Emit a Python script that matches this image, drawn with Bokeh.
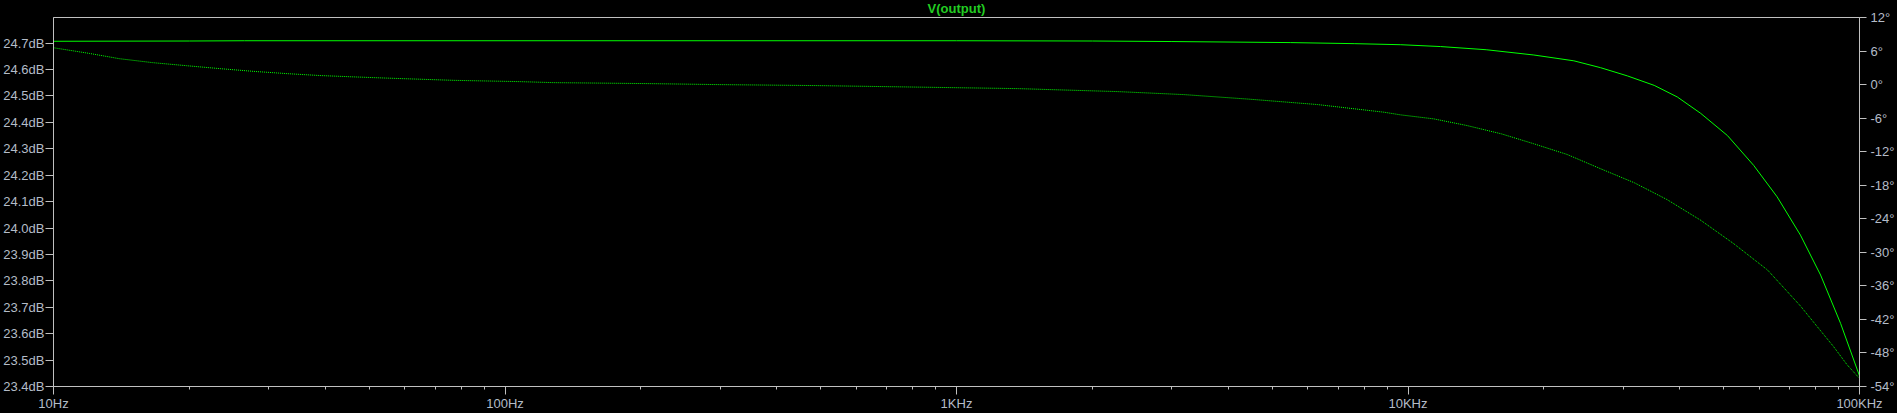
from bokeh.plotting import figure
from bokeh.models import Range1d, LinearAxis, FixedTicker, PrintfTickFormatter, GlobalInlineStyleSheet
from bokeh.embed import file_html
from bokeh.resources import INLINE

# ---- data ----
title_text = "V(output)"
x_major = [10, 100, 1000, 10000, 100000]
x_labels = ["10Hz", "100Hz", "1KHz", "10KHz", "100KHz"]
x_minor = [m * d for d in [10, 100, 1000, 10000] for m in range(2, 10)]
db_ticks = [23.4, 23.5, 23.6, 23.7, 23.8, 23.9, 24.0, 24.1, 24.2, 24.3, 24.4, 24.5, 24.6, 24.7]
deg_ticks = [-54, -48, -42, -36, -30, -24, -18, -12, -6, 0, 6, 12]

mag_freq = [10, 20, 26.5, 100, 1000, 2000, 3000, 5500, 7600, 9640, 11800, 14900, 19000,
            23300, 26700, 30600, 35100, 39500, 44500, 51000, 58300, 65700, 74000, 82000,
            90800, 100000]
mag_db = [24.707, 24.708, 24.709, 24.709, 24.709, 24.708, 24.706, 24.702, 24.698, 24.694,
          24.687, 24.675, 24.655, 24.633, 24.607, 24.576, 24.540, 24.496, 24.434, 24.350,
          24.237, 24.118, 23.973, 23.822, 23.639, 23.440]

ph_freq = [10, 12, 14, 16.6, 19.7, 23.4, 27.7, 32.9, 38.9, 46.2, 54.7, 77, 108, 128, 211,
           296, 493, 691, 972, 1370, 1620, 2270, 3190, 4490, 6300, 8850, 9640, 11400, 13500,
           16100, 19000, 22500, 26700, 31700, 37500, 44500, 52600, 62600, 74000, 80600,
           87600, 93900, 100000]
ph_deg = [6.59, 5.58, 4.63, 3.92, 3.38, 2.85, 2.37, 1.96, 1.62, 1.38, 1.16, 0.76, 0.53,
          0.35, 0.17, 0.0, -0.18, -0.36, -0.54, -0.72, -0.90, -1.25, -1.79, -2.63, -3.57,
          -4.94, -5.42, -6.13, -7.32, -8.81, -10.59, -12.49, -15.05, -17.55, -20.58,
          -24.27, -28.43, -33.18, -39.6, -43.29, -46.86, -50.13, -52.55]

# ---- style ----
AX = "#c0c0c0"
TXT = "#b4bcc8"
GREEN = "#00ff00"
FONT = "Liberation Sans"

p = figure(width=1897, height=413, x_axis_type="log",
           x_range=Range1d(10, 100000), y_range=Range1d(23.4, 24.797),
           output_backend="svg", toolbar_location=None,
           min_border_left=52, min_border_right=38, min_border_top=17, min_border_bottom=26,
           background_fill_color="black", border_fill_color="black",
           outline_line_color=AX, outline_line_width=1)
p.stylesheets = [GlobalInlineStyleSheet(css="html,body{margin:0;padding:0;background:#000;overflow:hidden}")]

p.title.text = title_text
p.title.align = "center"
p.title.vertical_align = "top"
p.title.text_color = "#22cc22"
p.title.text_font = FONT
p.title.text_font_size = "13px"
p.title.text_font_style = "bold"
p.title.standoff = 0
p.title.offset = 0

p.xgrid.visible = False
p.ygrid.visible = False

p.extra_y_ranges = {"phase": Range1d(-54, 12)}
raxis = LinearAxis(y_range_name="phase")
p.add_layout(raxis, "right")

xa = p.xaxis[0]
xa.ticker = FixedTicker(ticks=x_major, minor_ticks=x_minor)
xa.major_label_overrides = {t: l for t, l in zip(x_major, x_labels)}
xa.major_tick_out = 8
xa.major_tick_in = 0
xa.minor_tick_out = 3
xa.minor_tick_in = 0
xa.major_label_standoff = 1

ya = p.yaxis[0]
ya.ticker = FixedTicker(ticks=db_ticks, minor_ticks=[])
ya.formatter = PrintfTickFormatter(format="%.1fdB")
ya.major_tick_out = 8
ya.major_tick_in = 0
ya.minor_tick_out = 0
ya.minor_tick_in = 0
ya.major_label_standoff = 1

raxis.ticker = FixedTicker(ticks=deg_ticks, minor_ticks=[])
raxis.formatter = PrintfTickFormatter(format="%d°")
raxis.major_tick_out = 7
raxis.major_tick_in = 0
raxis.minor_tick_out = 0
raxis.minor_tick_in = 0
raxis.major_label_standoff = 4

for a in [xa, ya, raxis]:
    a.axis_line_color = AX
    a.major_tick_line_color = AX
    a.minor_tick_line_color = AX
    a.major_label_text_color = TXT
    a.major_label_text_font = FONT
    a.major_label_text_font_size = "13px"

p.line(mag_freq, mag_db, line_color=GREEN, line_width=1)
p.line(ph_freq, ph_deg, y_range_name="phase", line_color=GREEN, line_width=1, line_dash="1 1")

open("out.html", "w").write(file_html(p, INLINE))
